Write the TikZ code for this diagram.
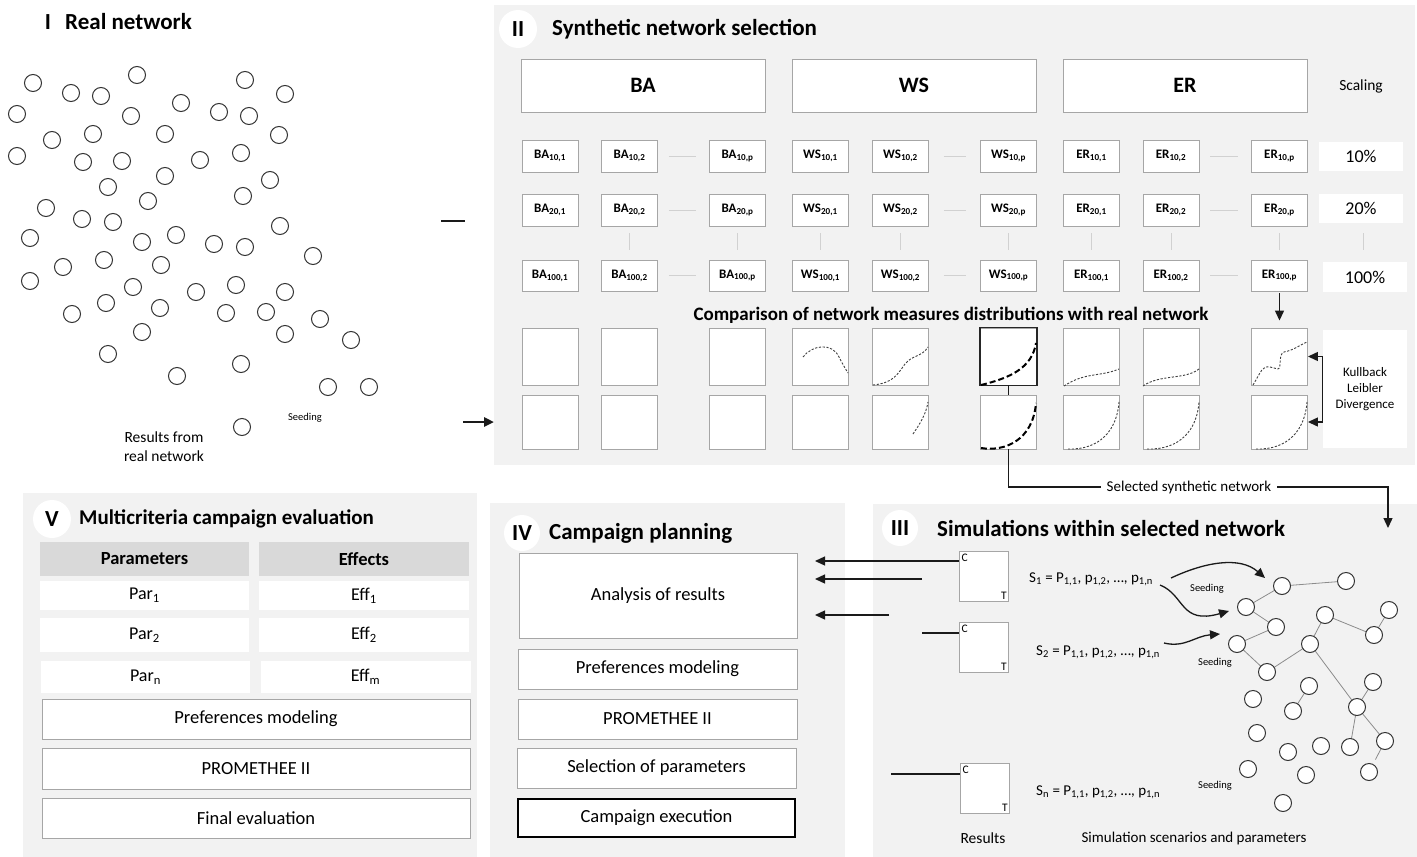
\documentclass[tikz,border=0pt]{standalone}
\usepackage{fontspec}
\setmainfont{Carlito}
\usetikzlibrary{arrows.meta}
\definecolor{pbg}{HTML}{F2F2F2}
\definecolor{bdr}{HTML}{A6A6A6}
\definecolor{hdr}{HTML}{D9D9D9}
\definecolor{ink}{HTML}{1A1A1A}
\newcommand\fsz[2]{\fontsize{#1}{#2}\selectfont}
\begin{document}
\begin{tikzpicture}[x=1pt,y=-1pt,
 panel/.style={fill=pbg, draw=none},
 rnum/.style={circle, fill=white, minimum size=38pt, inner sep=0pt, font=\bfseries\fsz{23}{26}},
 ttl/.style={anchor=west, inner sep=0pt, font=\bfseries\fsz{23}{26}},
 bigbox/.style={draw=bdr, fill=white, line width=1pt, minimum width=244pt, minimum height=53pt, inner sep=0pt, font=\bfseries\fsz{22}{24}},
 sbox/.style={draw=bdr, fill=white, line width=0.9pt, minimum width=56pt, minimum height=32pt, inner sep=0pt, font=\bfseries\fsz{13}{15}},
 chart/.style={draw=bdr, fill=white, line width=0.9pt, minimum width=56pt, minimum height=57pt, inner sep=0pt},
 pct/.style={fill=white, minimum width=84pt, minimum height=29pt, inner sep=0pt, font=\fsz{18}{20}},
 faint/.style={draw=black!18, line width=0.8pt},
 dcurve/.style={draw=black!75, line width=0.9pt, dash pattern=on 2.2pt off 1.6pt},
 tcurve/.style={draw=black, line width=2pt, dash pattern=on 6pt off 3pt},
 arr/.style={-{Triangle[length=10pt,width=9pt]}, line width=1.3pt, draw=ink},
 netc/.style={circle, draw=black!80, fill=white, line width=1pt, minimum size=17pt, inner sep=0pt},
 nete/.style={draw=black!45, line width=0.8pt},
 cell/.style={fill=white, inner sep=0pt, minimum width=209pt, font=\fsz{18}{20}},
 hcell/.style={fill=hdr, inner sep=0pt, minimum width=209pt, minimum height=34pt, font=\bfseries\fsz{18.5}{20}},
 wbox/.style={draw=bdr, fill=white, line width=1pt, inner sep=0pt, font=\fsz{18.5}{20}},
 rbox/.style={draw=bdr, fill=white, line width=1pt, minimum width=49pt, minimum height=50pt, inner sep=0pt},
 tinyt/.style={font=\fsz{10.5}{12}, inner sep=0pt},
 stext/.style={anchor=west, inner sep=0pt, font=\fsz{15}{17}},
 ct/.style={font=\fsz{11.5}{13}, inner sep=3pt}
]
\useasboundingbox (0,0) rectangle (1417,857);
\fill[white] (0,0) rectangle (1417,857);
% panel backgrounds
\fill[pbg] (494,5) rectangle (1415,465);
\fill[pbg] (23,493) rectangle (477,857);
\fill[pbg] (490,503) rectangle (845,857);
\fill[pbg] (873,504) rectangle (1417,857);

% ---------------- Panel I
\node[inner sep=0pt, font=\bfseries\fsz{23}{26}] (t1n) at (48,22) {I};
\node[ttl] (t1) at (65,22) {Real network};
\foreach \x/\y [count=\i] in {33/83,71/93,101/96,137/75,245/80,285/94,17/114,131/116,181/103,219/112,249/116,
  52/140,93/134,165/134,279/135,17/156,83/162,122/161,200/160,241/153,165/176,270/180,108/187,148/201,243/196,
  46/208,82/219,113/222,280/226,30/238,142/242,176/235,214/244,245/247,313/256,63/267,104/260,161/265,30/281,
  133/287,196/292,236/285,285/292,106/303,160/308,226/313,266/312,320/319,72/314,142/332,285/334,351/340,
  108/354,177/376,241/364,328/387,369/387,242/427}{
  \node[netc, fill=none] (rc\i) at (\x,\y) {};
}
\node[tinyt] (seed0) at (305,418) {Seeding};
\node[align=center, inner sep=0pt, font=\fsz{15.5}{19}] (res0) at (164,447) {Results from\\real network};
\coordinate (dA) at (441,221); \coordinate (dB) at (465,221);
\draw[line width=2.5pt, draw=ink] (dA) -- (dB);

% ---------------- Panel II
\node[rnum] (c2) at (518,29) {II};
\node[ttl] (t2) at (552,29) {Synthetic network selection};
\node[bigbox] (hBA) at (643,85.5) {BA};
\node[bigbox] (hWS) at (914,85.5) {WS};
\node[bigbox] (hER) at (1185,85.5) {ER};
\node[inner sep=0pt, font=\fsz{15.5}{17}] (scal) at (1361,86) {Scaling};
\foreach \x/\n/\l/\s in {550/ba1/BA/1, 629.5/ba2/BA/2, 737.5/bap/BA/p, 820.5/ws1/WS/1, 900.5/ws2/WS/2, 1008.5/wsp/WS/p, 1091.5/er1/ER/1, 1171/er2/ER/2, 1279.5/erp/ER/p}{
  \node[sbox] (\n-10) at (\x,156) {\l\textsubscript{10,\s}};
  \node[sbox] (\n-20) at (\x,210) {\l\textsubscript{20,\s}};
  \node[sbox, minimum height=31pt] (\n-100) at (\x,275.5) {\l\textsubscript{100,\s}};
  \node[chart] (\n-A) at (\x,356.5) {};
  \node[chart, minimum height=54pt] (\n-B) at (\x,422) {};
}
\node[pct] (p10) at (1361,156) {10\%};
\node[pct] (p20) at (1361,208.5) {20\%};
\node[pct, minimum height=30pt] (p100) at (1365,277) {100\%};
\foreach \r in {10,20,100}{
  \draw[faint, shorten <=11pt, shorten >=13pt] (ba2-\r.east) -- (bap-\r.west);
  \draw[faint, shorten <=15pt, shorten >=14pt] (ws2-\r.east) -- (wsp-\r.west);
  \draw[faint, shorten <=11pt, shorten >=13pt] (er2-\r.east) -- (erp-\r.west);
}
\foreach \n in {ba2,bap,ws1,ws2,wsp,er1,er2,erp}{
  \draw[faint, shorten <=7pt, shorten >=10pt] (\n-20.south) -- (\n-100.north);
}
\draw[faint, shorten <=10pt, shorten >=12pt] (p20.south -| 1363,0) -- (p100.north -| 1363,0);
\draw[arr, shorten <=2pt, shorten >=7pt] (erp-100.south) -- (erp-A.north);
\node[inner sep=0pt, font=\bfseries\fsz{19}{21}] (cmp) at (951,315) {Comparison of network measures distributions with real network};
% charts
\draw[line width=1.4pt, draw=black!85] (wsp-A.south west) rectangle (wsp-A.north east);
\draw[line width=1.3pt, draw=ink] (wsp-A.south) -- (wsp-B.north);
\draw[dcurve] (803,357) .. controls (812,345) and (832,342) .. (839,357) .. controls (842,363) and (845,368) .. (848,373);
\draw[dcurve] (873,385) .. controls (893,383) and (897,375) .. (905,364) .. controls (912,355) and (922,357) .. (928,347);
\draw[dcurve] (913,434) .. controls (919,425) and (926,415) .. (928,402);
\draw[tcurve] (981,385) .. controls (1010,378) and (1032,368) .. (1036,343);
\draw[tcurve] (981,448) .. controls (1005,452) and (1033,440) .. (1036,403);
\draw[dcurve] (1064,386) .. controls (1085,372) and (1100,377) .. (1119,369);
\draw[dcurve] (1143,386) .. controls (1160,374) and (1185,380) .. (1199,369);
\draw[dcurve] (1068,449) .. controls (1100,450) and (1117,430) .. (1119,402);
\draw[dcurve] (1147,449) .. controls (1180,450) and (1197,430) .. (1199,402);
\draw[dcurve] (1253,385) .. controls (1262,370) and (1262,366) .. (1270,367) -- (1278,369) .. controls (1282,368) and (1278,354) .. (1284,352) .. controls (1294,350) and (1298,346) .. (1307,342);
\draw[dcurve] (1256,449) .. controls (1288,450) and (1305,430) .. (1307,402);
\node[fill=white, minimum width=84pt, minimum height=118pt, inner sep=0pt, align=center, font=\fsz{13}{16}] (kl) at (1365,389) {Kullback\\Leibler\\Divergence};
\draw[{Triangle[length=10pt,width=9pt]}-{Triangle[length=10pt,width=9pt]}, line width=1.3pt, draw=ink] (erp-A.east) -- (kl.west |- erp-A.east) -- (kl.west |- erp-B.east) -- (erp-B.east);
\coordinate (inA) at (463,422); \coordinate (inB) at (494,422);
\draw[arr, line width=2.5pt] (inA) -- (inB);
\node[font=\fsz{15}{17}, inner xsep=6pt, inner ysep=0pt] (sel) at (1189,487) {Selected synthetic network};
\coordinate (p3in) at (1388,528);
\draw[line width=1.3pt, draw=ink] (wsp-B.south) |- (sel.west);
\draw[arr] (sel.east) -| (p3in);

% ---------------- Panel V
\node[rnum] (c5) at (52,519) {V};
\node[ttl, font=\bfseries\fsz{21}{23}] (t5) at (79,519) {Multicriteria campaign evaluation};
\node[hcell] (hpar) at (144.5,559) {Parameters};
\node[hcell, minimum width=210pt] (heff) at (364,559) {Effects};
\node[cell, minimum height=29pt] (par1) at (144.5,595.5) {Par\textsubscript{1}};
\node[cell, minimum width=210pt, minimum height=29pt] (eff1) at (364,595.5) {Eff\textsubscript{1}};
\node[cell, minimum height=34pt] (par2) at (144.5,635) {Par\textsubscript{2}};
\node[cell, minimum width=210pt, minimum height=34pt] (eff2) at (364,635) {Eff\textsubscript{2}};
\node[cell, minimum height=32pt] (parn) at (145.5,677) {Par\textsubscript{n}};
\node[cell, minimum width=210pt, minimum height=32pt] (effm) at (365.5,677) {Eff\textsubscript{m}};
\node[wbox, minimum width=428pt, minimum height=40pt] (pref5) at (256,719) {Preferences modeling};
\node[wbox, minimum width=428pt, minimum height=41pt] (prom5) at (256,768.5) {PROMETHEE II};
\node[wbox, minimum width=428pt, minimum height=40pt] (fin5) at (256,818) {Final evaluation};

% ---------------- Panel IV
\node[rnum, minimum size=36pt] (c4) at (522,533) {IV};
\node[ttl] (t4) at (549,533) {Campaign planning};
\node[wbox, minimum width=278pt, minimum height=85pt] (anal) at (658,595.5) {Analysis of results};
\node[wbox, minimum width=279pt, minimum height=40pt] (pref4) at (657.5,669) {Preferences modeling};
\node[wbox, minimum width=279pt, minimum height=40pt] (prom4) at (657.5,719) {PROMETHEE II};
\node[wbox, minimum width=279pt, minimum height=40pt] (sel4) at (656.5,768) {Selection of parameters};
\node[wbox, draw=black, line width=2.5pt, minimum width=277pt, minimum height=38pt] (exe4) at (656.5,818) {Campaign execution};

% ---------------- Panel III
\node[rnum, minimum size=36pt] (c3) at (900,528) {III};
\node[ttl] (t3) at (937,528) {Simulations within selected network};
\node[rbox] (r1) at (983.5,576) {};
\node[rbox] (r2) at (983.5,647) {};
\node[rbox] (r3) at (984.5,788) {};
\foreach \r in {r1,r2,r3}{
  \node[ct, anchor=north west] at (\r.north west) {C};
  \node[ct, anchor=south east, inner sep=1.5pt] at (\r.south east) {T};
}
\coordinate (a1) at (815,561);
\coordinate (a2) at (815,579); \coordinate (l2) at (922,579);
\coordinate (a3) at (815,615); \coordinate (l3) at (889,615);
\coordinate (b2) at (922,633); \coordinate (b3) at (891,774);
\draw[arr] (r1.west |- a1) -- (a1);
\draw[arr] (l2) -- (a2);
\draw[arr] (l3) -- (a3);
\draw[line width=1.3pt, draw=ink] (r2.west |- b2) -- (b2);
\draw[line width=1.3pt, draw=ink] (r3.west |- b3) -- (b3);
\node[stext] (s1) at (1029,579) {S\textsubscript{1} = P\textsubscript{1,1}, p\textsubscript{1,2}, \ldots, p\textsubscript{1,n}};
\node[stext] (s2) at (1036,652) {S\textsubscript{2} = P\textsubscript{1,1}, p\textsubscript{1,2}, \ldots, p\textsubscript{1,n}};
\node[stext] (sn) at (1036,792) {S\textsubscript{n} = P\textsubscript{1,1}, p\textsubscript{1,2}, \ldots, p\textsubscript{1,n}};
\node[inner sep=0pt, font=\fsz{15.5}{17}] (resl) at (983,838) {Results};
\node[inner sep=0pt, font=\fsz{15}{17}] (siml) at (1194,838) {Simulation scenarios and parameters};
\node[tinyt] (sd1) at (1207,589) {Seeding};
\node[tinyt] (sd2) at (1215,663) {Seeding};
\node[tinyt] (sd3) at (1215,786) {Seeding};
\foreach \x/\y [count=\i] in {1282/586,1346/581,1246/607,1389/610,1325/615,1276/627,1374/635,1237/644,1310/644,1267/672,
  1309/686,1373/682,1253/699,1293/711,1357/707,1257/733,1288/752,1321/746,1350/747,1385/741,1248/769,1306/775,1369/772,1283/803}{
  \coordinate (q\i) at (\x,\y);
}
\foreach \a/\b in {1/2,1/3,3/6,6/8,8/10,10/9,9/5,5/7,7/4,9/15,15/12,15/19,15/20,11/14}{
  \draw[nete] (q\a) -- (q\b);
}
\draw[nete, shorten >=14pt] (q20) -- (q23);
\foreach \i in {1,...,24}{
  \node[netc] (n\i) at (q\i) {};
}
\draw[arr] (1171,578) .. controls (1205,562) and (1240,556) .. (1265,578);
\draw[arr] (1160,585) .. controls (1185,595) and (1180,625) .. (1229,611);
\draw[arr] (1164,643) .. controls (1185,648) and (1195,636) .. (1220,634);
\end{tikzpicture}
\end{document}
